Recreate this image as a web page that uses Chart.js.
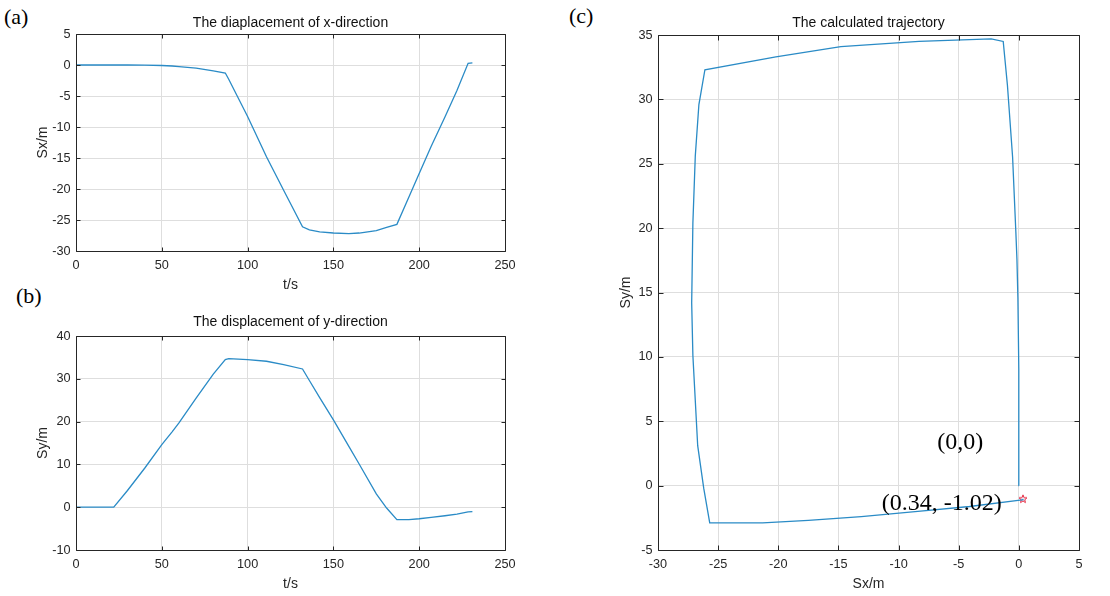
<!DOCTYPE html>
<html>
<head>
<meta charset="utf-8">
<script src="https://cdn.jsdelivr.net/npm/chart.js@4"></script>
<style>
  body { margin:0; background:#fff; width:1110px; height:596px; position:relative; overflow:hidden; }
  canvas { position:absolute; }
  .tag { position:absolute; font-family:"Liberation Serif","Times New Roman",serif; font-size:22px; line-height:22px; color:#000; }
</style>
</head>
<body>
<div class="tag" style="left:4px;top:6px">(a)</div>
<div class="tag" style="left:16px;top:285px">(b)</div>
<div class="tag" style="left:569px;top:5px">(c)</div>
<canvas id="chart-x" width="540" height="294" style="left:0;top:0"></canvas>
<canvas id="chart-y" width="540" height="300" style="left:0;top:296px"></canvas>
<canvas id="chart-traj" width="550" height="596" style="left:560px;top:0"></canvas>
<script>
// time samples (s) and displacement
var t  = [0, 10, 22, 30, 40, 50, 56, 60, 70, 80, 87, 89, 100, 111, 121, 132, 136, 142, 150, 159, 165, 175, 181, 187, 194, 200, 207, 215, 222, 228.5, 231];
var sx = [0, 0, 0, 0, -0.02, -0.08, -0.16, -0.25, -0.52, -0.95, -1.3, -2.3, -8.3, -14.8, -20.2, -26.1, -26.6, -26.9, -27.1, -27.2, -27.1, -26.7, -26.2, -25.7, -21.3, -17.5, -13.1, -8.4, -4.1, 0.27, 0.34];
var sy = [0, 0, 0, 3.9, 9.1, 14.6, 17.6, 19.7, 25.5, 31.1, 34.5, 34.7, 34.5, 34.1, 33.3, 32.3, 29.6, 25.6, 20.4, 14.2, 10.1, 3.1, -0.2, -2.9, -2.9, -2.7, -2.4, -2.0, -1.62, -1.1, -1.02];

// axis ticks
var tTicks   = [0, 50, 100, 150, 200, 250];
var sxTicksA = [-30, -25, -20, -15, -10, -5, 0, 5];
var syTicksB = [-10, 0, 10, 20, 30, 40];
var sxTicksC = [-30, -25, -20, -15, -10, -5, 0, 5];
var syTicksC = [-5, 0, 5, 10, 15, 20, 25, 30, 35];

// text notes on the trajectory
var notes = ['(0,0)', '(0.34, -1.02)'];
var noteX = [-4.87, -6.42];
var noteY = [3.3, -1.43];

var FONT = '"Liberation Sans", Arial, sans-serif';
var lineColor = '#2a8bc6';

function pairs(xs, ys) {
  return xs.map(function(v, i){ return {x: v, y: ys[i]}; });
}

function makeStar() {
  var c = document.createElement('canvas');
  c.width = 10; c.height = 10;
  var g = c.getContext('2d');
  g.beginPath();
  for (var i = 0; i < 10; i++) {
    var r = i % 2 ? 1.8 : 4.2;
    var a = -Math.PI / 2 + i * Math.PI / 5;
    var px = 5 + r * Math.cos(a), py = 5.3 + r * Math.sin(a);
    if (i) g.lineTo(px, py); else g.moveTo(px, py);
  }
  g.closePath();
  g.strokeStyle = '#e2223c';
  g.lineWidth = 1;
  g.stroke();
  return c;
}

// matlab style box with inward ticks on all sides
function frame(tickLen) {
  return {
    id: 'frame',
    afterDatasetsDraw: function(chart) {
      var a = chart.chartArea, ctx = chart.ctx;
      var L = Math.round(a.left) + 0.5, R = Math.round(a.right) + 0.5;
      var T = Math.round(a.top) + 0.5, B = Math.round(a.bottom) + 0.5;
      var xs = chart.scales.x, ys = chart.scales.y;
      ctx.save();
      ctx.strokeStyle = '#262626';
      ctx.lineWidth = 1;
      ctx.beginPath();
      ctx.rect(L, T, R - L, B - T);
      xs.ticks.forEach(function(tk){
        var px = Math.round(xs.getPixelForValue(tk.value)) + 0.5;
        ctx.moveTo(px, B); ctx.lineTo(px, B - tickLen);
        ctx.moveTo(px, T); ctx.lineTo(px, T + tickLen);
      });
      ys.ticks.forEach(function(tk){
        var py = Math.round(ys.getPixelForValue(tk.value)) + 0.5;
        ctx.moveTo(L, py); ctx.lineTo(L + tickLen, py);
        ctx.moveTo(R, py); ctx.lineTo(R - tickLen, py);
      });
      ctx.stroke();
      ctx.restore();
    }
  };
}

var notesPlugin = {
  id: 'notes',
  afterDatasetsDraw: function(chart) {
    var ctx = chart.ctx;
    ctx.save();
    ctx.font = '24px "Liberation Serif", "Times New Roman", serif';
    ctx.fillStyle = '#000';
    ctx.textAlign = 'center';
    ctx.textBaseline = 'middle';
    notes.forEach(function(s, i){
      ctx.fillText(s, chart.scales.x.getPixelForValue(noteX[i]), chart.scales.y.getPixelForValue(noteY[i]));
    });
    ctx.restore();
  }
};

function scaleOpts(tickVals, label, size, isX, tpad) {
  return {
    type: 'linear',
    min: tickVals[0],
    max: tickVals[tickVals.length - 1],
    afterBuildTicks: function(s){ s.ticks = tickVals.map(function(v){ return {value: v}; }); },
    afterFit: function(s){ if (isX) s.height = size; else s.width = size; },
    grid: { color: '#dedede', drawTicks: false },
    border: { display: false },
    ticks: { color: '#262626', font: { family: FONT, size: 12.7 }, padding: isX ? 7 : 5.5, maxRotation: 0, autoSkip: false },
    title: { display: true, text: label, color: '#262626', font: { family: FONT, size: 14 }, padding: tpad }
  };
}

function baseOptions(title, titlePad, padding, xScale, yScale) {
  return {
    responsive: false,
    animation: false,
    devicePixelRatio: 1,
    layout: { padding: padding },
    plugins: {
      legend: { display: false },
      tooltip: { enabled: false },
      title: { display: true, text: title, fullSize: false, color: '#111', font: { family: FONT, size: 14, weight: 'normal' }, padding: titlePad }
    },
    scales: { x: xScale, y: yScale }
  };
}

function lineSet(data) {
  return { data: data, showLine: true, borderColor: lineColor, borderWidth: 1.3, pointRadius: 0, tension: 0, fill: false };
}

new Chart(document.getElementById('chart-x').getContext('2d'), {
  type: 'scatter',
  data: { datasets: [lineSet(pairs(t, sx))] },
  options: baseOptions('The diaplacement of x-direction', {top: 4.6, bottom: 2.6},
    {left: 29, right: 35, top: 10, bottom: 0},
    scaleOpts(tTicks, 't/s', 43, true, {top: 0, bottom: 0}),
    scaleOpts(sxTicksA, 'Sx/m', 47, false, {top: 6, bottom: 0})),
  plugins: [frame(4)]
});

new Chart(document.getElementById('chart-y').getContext('2d'), {
  type: 'scatter',
  data: { datasets: [lineSet(pairs(t, sy))] },
  options: baseOptions('The displacement of y-direction', {top: 6.1, bottom: 5.1},
    {left: 29, right: 35, top: 12, bottom: 0},
    scaleOpts(tTicks, 't/s', 46, true, {top: 0, bottom: 3.6}),
    scaleOpts(syTicksB, 'Sy/m', 47, false, {top: 6, bottom: 0})),
  plugins: [frame(4)]
});

var last = t.length - 1;
new Chart(document.getElementById('chart-traj').getContext('2d'), {
  type: 'scatter',
  data: {
    datasets: [
      lineSet(pairs(sx, sy)),
      { data: [{x: sx[last], y: sy[last]}], pointStyle: makeStar(), pointRadius: 5, showLine: false }
    ]
  },
  options: baseOptions('The calculated trajectory', {top: 4.3, bottom: 3.9},
    {left: 52, right: 31, top: 10, bottom: 0},
    scaleOpts(sxTicksC, 'Sx/m', 46, true, {top: 0, bottom: 3.6}),
    scaleOpts(syTicksC, 'Sy/m', 46, false, {top: 6, bottom: 0})),
  plugins: [frame(5), notesPlugin]
});
</script>
</body>
</html>
